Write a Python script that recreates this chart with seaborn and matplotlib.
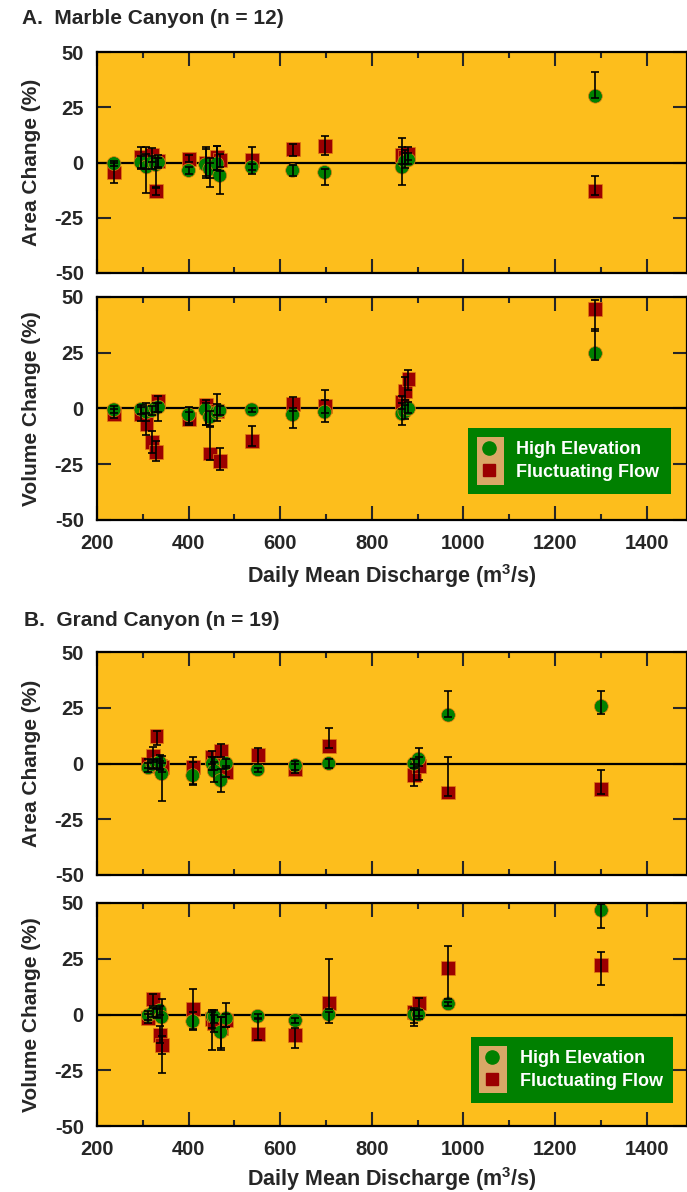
import seaborn as sns
import matplotlib.pyplot as plt
import pandas as pd
from matplotlib.patches import Rectangle
from matplotlib.lines import Line2D
from matplotlib.ticker import MultipleLocator

# ---- Marble Canyon ----
mc_q = [237, 296, 308, 320, 328, 334, 400, 437, 446, 462, 468, 538, 627, 697, 866, 872, 880, 1288]
mc_area_he = [-0.5, 0, -2, 0, -1, 0, -3.6, -1, -3, -0.6, -5.9, -2.1, -3.6, -4.5, -2.1, 0.5, 1.2, 30]
mc_area_he_lo = [1, 3, 12, 3, 10, 2, 1.5, 6, 8, 3, 8.5, 1.5, 2.5, 5.5, 8, 3, 2, 1]
mc_area_he_hi = [1, 3, 9, 3, 3, 2, 1.5, 8, 3, 8, 2, 1.5, 2.5, 1.5, 13, 4, 3, 11]
mc_area_ff = [-4.5, 2.4, 1, 3.4, -13, 0.5, 1.7, 0, -1, 2.4, 1, 1, 6, 7.5, 3.2, 2.5, 4, -12.7]
mc_area_ff_lo = [5, 5, 4, 3, 1.5, 3, 1.5, 6, 6, 6, 3, 6, 3, 4, 4, 3, 3, 1.8]
mc_area_ff_hi = [4.5, 4.5, 3, 3, 1.5, 3, 1.5, 6, 3, 5, 3, 6, 2.5, 4.5, 4, 3, 3, 6.4]
mc_vol_he = [-0.6, -0.4, -1.6, -0.9, 0.3, 0.6, -2.8, -0.6, -3.9, -1.6, -1, -0.6, -2.8, -1.6, -2.4, -1.5, -0.1, 24.7]
mc_vol_he_lo = [1.5, 2, 4, 2, 2, 2, 3.5, 7, 4, 4, 2, 1, 6, 4.5, 5, 3, 2, 3]
mc_vol_he_hi = [1.5, 2, 4, 2, 2, 2, 3.5, 3, 3, 8, 2, 1, 3, 10, 5, 3, 3, 11]
mc_vol_ff = [-2.4, -2.4, -6.8, -15, -19.5, 3.6, -4.6, 1.8, -20.2, -1, -23.7, -14.7, 2.1, 1, 2.8, 8, 13.3, 44.8]
mc_vol_ff_lo = [2, 3, 5, 5, 4, 9, 3, 9, 3, 2, 4, 2, 3, 3, 3, 4, 5, 10]
mc_vol_ff_hi = [2, 3, 5, 5, 5, 2, 3, 2, 12, 3, 6, 7, 3, 3, 3, 6, 4, 4]

# ---- Grand Canyon ----
gc_q = [312, 322, 330, 337, 341, 409, 452, 456, 470, 482, 551, 633, 706, 892, 902, 967, 1301]
gc_area_he = [-1.9, -0.5, 0, 0.6, -4.6, -5.4, -0.1, -3.4, -7.6, 0, -2.8, -0.9, 0, 0, 2, 21.7, 25.6]
gc_area_he_lo = [2, 2, 2, 3, 12, 4, 3, 5, 5, 2, 1, 2, 2, 2, 3, 1, 3.5]
gc_area_he_hi = [2, 2, 2, 3, 8, 6, 3, 4, 5, 2, 1, 2, 2, 2, 5, 11, 7]
gc_area_ff = [0, 3.6, 12.5, -1, -1.6, -1.6, 2.8, 0, 5.8, -3.9, 3.9, -2.4, 8, -5, -1.3, -13, -11.6]
gc_area_ff_lo = [2, 3, 4, 2, 2, 8, 3, 3, 3, 2, 4, 2, 1, 5, 6, 1.5, 2]
gc_area_ff_hi = [2, 4, 2, 2, 2, 4.5, 3, 3, 3, 3, 3, 2, 8, 5, 4, 16, 8.5]
gc_vol_he = [-0.4, 0.8, 0.5, 1.8, -1.2, -3.1, -0.8, -1, -7.9, -1.7, -0.8, -2.7, 0, 0, 0, 4.8, 46.7]
gc_vol_he_lo = [2, 2, 2, 2, 25, 4, 15, 3, 7, 4, 1, 1, 4, 5, 2, 1, 8]
gc_vol_he_hi = [2, 2, 2, 2, 8, 4, 3, 3, 7, 7, 1, 1, 1, 2, 2, 1, 3]
gc_vol_ff = [-1.7, 7, 1, -9, -13.8, 2.5, -1.9, -4, -6, -2.7, -8.6, -9, 5, 1, 5.2, 20.8, 22.2]
gc_vol_ff_lo = [2, 3, 2, 4, 4, 9, 4, 4, 10, 3, 3, 6, 2.5, 5, 6, 14, 9]
gc_vol_ff_hi = [2, 2, 2, 4, 4, 9, 3, 4, 5, 3, 7, 3, 20, 2, 2, 10, 6]

series = ['Fluctuating Flow', 'High Elevation']
bg = '#FDBE1C'
green = '#008000'
red = '#9B0000'
tan = '#D9A866'

sns.set_style('ticks')
plt.rcParams['font.family'] = ['Liberation Sans', 'DejaVu Sans']
plt.rcParams['font.weight'] = 'bold'
plt.rcParams['axes.unicode_minus'] = False
plt.rcParams['mathtext.fontset'] = 'custom'
plt.rcParams['mathtext.rm'] = 'Liberation Sans:bold'
plt.rcParams['mathtext.bf'] = 'Liberation Sans:bold'

W, H = 687, 1192
fig = plt.figure(figsize=(W / 100, H / 100), dpi=100)


def add_axes(top, bottom):
    return fig.add_axes([97 / W, 1 - bottom / H, (687 - 97) / W, (bottom - top) / H])


def panel(ax, q, he, he_lo, he_hi, ff, ff_lo, ff_hi, ylabel):
    df = pd.DataFrame({
        'q': list(q) + list(q),
        'change': list(ff) + list(he),
        'series': [series[0]] * len(q) + [series[1]] * len(q),
    })
    ax.set_facecolor(bg)
    ax.axhline(0, color='black', lw=1.6, zorder=1)
    sns.scatterplot(data=df, x='q', y='change', hue='series', style='series',
                    palette={series[0]: red, series[1]: green},
                    markers={series[0]: 's', series[1]: 'o'},
                    s=100, edgecolor='#E07A14', linewidth=0.5, alpha=1,
                    legend=False, ax=ax, zorder=2)
    ax.errorbar(q, ff, yerr=[ff_lo, ff_hi], fmt='none', ecolor='black',
                elinewidth=1.2, capsize=3.2, capthick=1.2, zorder=3)
    ax.errorbar(q, he, yerr=[he_lo, he_hi], fmt='none', ecolor='black',
                elinewidth=1.2, capsize=3.2, capthick=1.2, zorder=3)
    ax.set_xlim(200, 1488)
    ax.set_ylim(-50, 50)
    ax.set_yticks([-50, -25, 0, 25, 50])
    ax.xaxis.set_major_locator(MultipleLocator(200))
    ax.xaxis.set_minor_locator(MultipleLocator(100))
    ax.tick_params(which='both', direction='in', top=True, right=True, width=1.5)
    ax.tick_params(which='major', length=10, labelsize=14.5)
    ax.tick_params(which='minor', length=4.5)
    ax.tick_params(axis='y', pad=9.5)
    ax.tick_params(axis='x', pad=10)
    for sp in ax.spines.values():
        sp.set_linewidth(1.6)
        sp.set_color('black')
    ax.set_ylabel(ylabel, fontsize=15, fontweight='bold')
    ax.yaxis.set_label_coords(-0.095, 0.5)
    ax.set_xlabel('')


def legend_box(ax, box, tbox, anchor):
    ax.add_patch(Rectangle((box[0], box[1]), box[2] - box[0], box[3] - box[1],
                           transform=ax.transAxes, facecolor=green, edgecolor='none', zorder=4))
    ax.add_patch(Rectangle((tbox[0], tbox[1]), tbox[2] - tbox[0], tbox[3] - tbox[1],
                           transform=ax.transAxes, facecolor=tan, edgecolor='none', zorder=5))
    handles = [Line2D([], [], ls='none', marker='o', ms=9.5, mfc=green, mec=green),
               Line2D([], [], ls='none', marker='s', ms=9, mfc=red, mec=red)]
    leg = ax.legend(handles, ['High Elevation', 'Fluctuating Flow'], loc='center left',
                    bbox_to_anchor=anchor, frameon=False, borderpad=0, borderaxespad=0,
                    handlelength=1.0, handletextpad=1.0, labelspacing=0.3,
                    prop={'size': 13, 'weight': 'bold'}, labelcolor='white')
    leg.set_zorder(6)


# A. Marble Canyon
ax1 = add_axes(52, 273)
panel(ax1, mc_q, mc_area_he, mc_area_he_lo, mc_area_he_hi,
      mc_area_ff, mc_area_ff_lo, mc_area_ff_hi, 'Area Change (%)')
ax1.set_xticklabels([])
ax2 = add_axes(297, 520)
panel(ax2, mc_q, mc_vol_he, mc_vol_he_lo, mc_vol_he_hi,
      mc_vol_ff, mc_vol_ff_lo, mc_vol_ff_hi, 'Volume Change (%)')
ax2.set_xlabel('Daily Mean Discharge (m$^{3}$/s)', fontsize=15.5, fontweight='bold')
ax2.xaxis.set_label_coords(0.5, -0.19)
legend_box(ax2, (0.629, 0.117, 0.973, 0.413), (0.644, 0.157, 0.690, 0.372), (0.649, 0.265))

# B. Grand Canyon
ax3 = add_axes(652, 875)
panel(ax3, gc_q, gc_area_he, gc_area_he_lo, gc_area_he_hi,
      gc_area_ff, gc_area_ff_lo, gc_area_ff_hi, 'Area Change (%)')
ax3.set_xticklabels([])
ax4 = add_axes(903, 1126)
panel(ax4, gc_q, gc_vol_he, gc_vol_he_lo, gc_vol_he_hi,
      gc_vol_ff, gc_vol_ff_lo, gc_vol_ff_hi, 'Volume Change (%)')
ax4.set_xlabel('Daily Mean Discharge (m$^{3}$/s)', fontsize=15.5, fontweight='bold')
ax4.xaxis.set_label_coords(0.5, -0.175)
legend_box(ax4, (0.634, 0.104, 0.977, 0.400), (0.648, 0.147, 0.695, 0.359), (0.655, 0.252))

fig.text(22 / W, 1 - 19 / H, 'A.  Marble Canyon (n = 12)', fontsize=15,
         fontweight='bold', va='center', ha='left')
fig.text(24 / W, 1 - 621 / H, 'B.  Grand Canyon (n = 19)', fontsize=15,
         fontweight='bold', va='center', ha='left')

fig.savefig('out.png', dpi=100, facecolor='white')
